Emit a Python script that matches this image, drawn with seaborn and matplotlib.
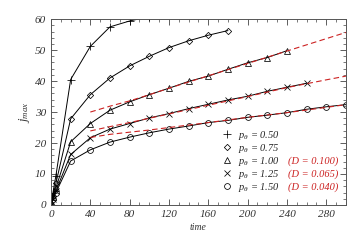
import matplotlib
matplotlib.use("Agg")
import matplotlib.pyplot as plt
from matplotlib.ticker import MultipleLocator
from matplotlib.lines import Line2D
import seaborn as sns

# data
t_050 = [0, 2, 5, 20, 40, 60, 80, 100]
j_050 = [0, 4.0, 9.5, 40.5, 51.2, 57.5, 59.4, 60.8]

t_075 = [0, 2, 5, 20, 40, 60, 80, 100, 120, 140, 160, 180]
j_075 = [0, 3.0, 7.0, 27.8, 35.6, 41.0, 44.9, 48.0, 50.8, 53.0, 54.8, 56.3]

t_100 = [0, 2, 5, 20, 40, 60, 80, 100, 120, 140, 160, 180, 200, 220, 240]
j_100 = [0, 2.5, 5.5, 20.4, 26.3, 30.6, 33.3, 35.6, 37.7, 39.9, 41.6, 43.8, 45.9, 47.6, 49.8]

t_125 = [0, 2, 5, 20, 40, 60, 80, 100, 120, 140, 160, 180, 200, 220, 240, 260]
j_125 = [0, 2.0, 4.6, 16.3, 21.7, 24.5, 26.3, 28.1, 29.5, 31.1, 32.5, 33.9, 35.1, 36.7, 38.0, 39.3]

t_150 = [0, 2, 5, 20, 40, 60, 80, 100, 120, 140, 160, 180, 200, 220, 240, 260, 280, 300]
j_150 = [0, 1.8, 4.0, 14.2, 17.8, 20.3, 21.9, 23.3, 24.5, 25.5, 26.6, 27.3, 28.3, 29.0, 29.8, 30.9, 31.7, 32.4]

# dashed fits
t_fit = [40, 60, 80, 100, 120, 160, 200, 240, 280, 300]
fit_100 = [30.0, 31.9, 33.6, 35.6, 37.7, 41.7, 45.7, 49.7, 53.7, 55.7]
fit_125 = [23.9, 25.3, 26.6, 28.0, 29.4, 32.2, 35.0, 37.9, 40.4, 41.6]
fit_150 = [21.8, 22.8, 23.5, 24.2, 25.0, 26.6, 28.3, 29.8, 31.5, 32.4]

p_labels = ["0.50", "0.75", "1.00", "1.25", "1.50"]
d_labels = ["", "", "(D = 0.100)", "(D = 0.065)", "(D = 0.040)"]

sns.set_style("ticks")
plt.rcParams["font.family"] = ["Liberation Serif", "DejaVu Serif"]
plt.rcParams["font.style"] = "italic"
plt.rcParams["mathtext.fontset"] = "custom"
plt.rcParams["mathtext.it"] = "Liberation Serif:italic"
plt.rcParams["mathtext.rm"] = "Liberation Serif:italic"

fig = plt.figure(figsize=(3.63, 2.42), dpi=100)
ax = fig.add_axes([0.1405, 0.153, 0.8125, 0.768])

red = "#cc2222"
for tf, jf in [(t_fit, fit_100), (t_fit, fit_125), (t_fit, fit_150)]:
    sns.lineplot(x=tf, y=jf, ax=ax, color=red, lw=0.8,
                 linestyle=(0, (5, 3)), zorder=3)

series = [
    (t_050, j_050, "+", 5.5),
    (t_075, j_075, "D", 3.2),
    (t_100, j_100, "^", 4.5),
    (t_125, j_125, "x", 4.5),
    (t_150, j_150, "o", 4.2),
]
for t, j, m, ms in series:
    sns.lineplot(x=t, y=j, ax=ax, color="k", lw=0.7, marker=m, ms=ms,
                 mfc="none", mec="k", mew=0.55, zorder=2)

ax.set_xlim(0, 300)
ax.set_ylim(0, 60)
ax.xaxis.set_major_locator(MultipleLocator(40))
ax.xaxis.set_minor_locator(MultipleLocator(10))
ax.yaxis.set_major_locator(MultipleLocator(10))
ax.yaxis.set_minor_locator(MultipleLocator(2))
ax.tick_params(which="both", direction="in", top=True, right=True,
               colors="#444444", labelcolor="#333333", labelsize=8)
ax.tick_params(which="major", length=4, width=0.6)
ax.tick_params(which="minor", length=2, width=0.5)
for s in ax.spines.values():
    s.set_color("#555555")
    s.set_linewidth(0.7)

ax.set_xlabel("time", fontsize=7, labelpad=3, color="#333333")
ax.set_ylabel(r"$j_{max}$", fontsize=9, labelpad=2, color="#333333")

handles = [Line2D([], [], ls="none", marker=m, ms=ms, mfc="none", mec="k", mew=0.55)
           for _, _, m, ms in series]
labels = [r"$p_\theta$ = " + p for p in p_labels]
leg = ax.legend(handles, labels, loc="lower left", bbox_to_anchor=(0.555, 0.02),
                frameon=False, fontsize=7.5, handlelength=1.0, handletextpad=0.5,
                labelspacing=0.0, borderpad=0.2)

fig.canvas.draw()
for lbl in ax.get_xticklabels() + ax.get_yticklabels():
    lbl.set_fontstyle("italic")
inv = ax.transAxes.inverted()
for txt, d in zip(leg.get_texts(), d_labels):
    if not d:
        continue
    bb = txt.get_window_extent()
    y = inv.transform(((bb.x0 + bb.x1) / 2, (bb.y0 + bb.y1) / 2))[1]
    ax.text(0.805, y, d, transform=ax.transAxes, color=red, fontsize=7.5,
            va="center", ha="left")

fig.savefig("out.png", dpi=100)
